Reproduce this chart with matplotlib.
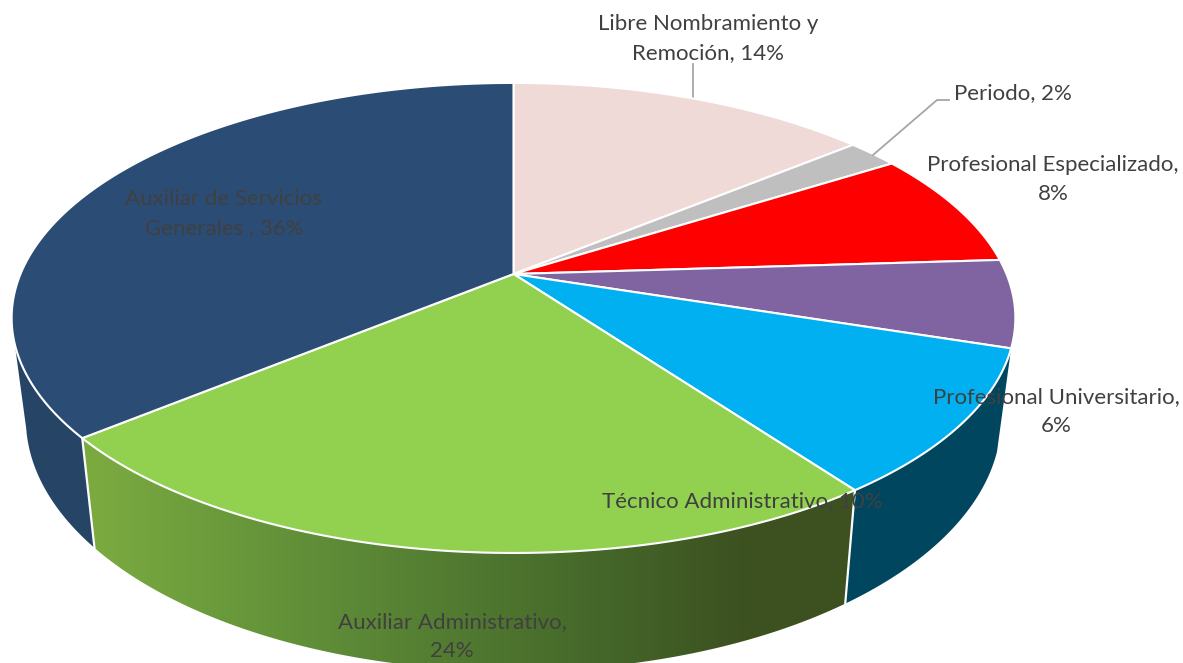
import numpy as np
import matplotlib
matplotlib.use('Agg')
import matplotlib.pyplot as plt
from matplotlib.colors import LinearSegmentedColormap
from matplotlib.patches import Polygon

# clockwise from 12 o'clock
categories = ['Libre Nombramiento y\nRemoción', 'Periodo', 'Profesional Especializado',
              'Profesional Universitario', 'Técnico Administrativo',
              'Auxiliar Administrativo', 'Auxiliar de Servicios\nGenerales ']
values = [14, 2, 8, 6, 10, 24, 36]
colors = ['#F0DAD8', '#BFBFBF', '#FF0000', '#8064A2', '#00B0F0', '#92D050', '#2B4C74']

label_text = ['Libre Nombramiento y\nRemoción, 14%', 'Periodo, 2%', 'Profesional Especializado,\n8%',
              'Profesional Universitario,\n6%', 'Técnico Administrativo, 10%',
              'Auxiliar Administrativo,\n24%', 'Auxiliar de Servicios\nGenerales , 36%']
label_x = [708, 954, 1053, 1056, 742, 452, 224]
label_y = [38.5, 93, 179.5, 411.5, 501, 636.5, 213.5]
label_ha = ['center', 'left', 'center', 'center', 'center', 'center', 'center']

# perspective of the top face and of the bottom rim
CX = 513.5
K = 0.187
TOP = dict(r=493, s=226.8, y0=274)
BOT = dict(r=479, s=243, y0=372)
TEXT = '#404040'


def project(theta, ring):
    t = np.radians(theta)
    d = 1 + K * np.cos(t)
    return CX + ring['r'] * np.sin(t) / d, ring['y0'] - ring['s'] * np.cos(t) / d


def arc(a, b, ring):
    t = np.linspace(a, b, 200)
    x, y = project(t, ring)
    return np.column_stack([x, y])


fig = plt.figure(figsize=(11.83, 6.63), dpi=100)
ax = fig.add_axes([0, 0, 1, 1])
ax.set_xlim(0, 1183)
ax.set_ylim(663, 0)
ax.axis('off')

ends = np.cumsum(values) * 3.6
starts = ends - np.array(values) * 3.6


def wall(a_top, b_top, a_bot, b_bot, stops, x0, x1):
    pts = np.vstack([arc(a_top, b_top, TOP), arc(b_bot, a_bot, BOT)])
    poly = Polygon(pts, closed=True, fc='none', ec='none', transform=ax.transData)
    ax.add_patch(poly)
    cmap = LinearSegmentedColormap.from_list('w', stops)
    im = ax.imshow(np.linspace(0, 1, 256).reshape(1, -1), cmap=cmap, aspect='auto',
                   extent=[x0, x1, 663, 0], zorder=1)
    im.set_clip_path(poly)


# side walls, only the visible front part
wall(starts[4], ends[4], starts[4], ends[4], ['#00465F', '#00465F'], 830, 1020)
green_stops = [(0, '#7CAC40'), (0.28, '#619039'), (0.66, '#45682A'), (0.86, '#3C5020'), (1, '#3C5020')]
wall(starts[5], ends[5], starts[5], ends[5], green_stops, 80, 860)
wall(starts[6], 253, starts[6], 257, ['#264566', '#264566'], 10, 100)
ax.set_xlim(0, 1183)
ax.set_ylim(663, 0)

# white seams between the walls
for a in [ends[4], ends[5]]:
    xt, yt = project(a, TOP)
    xb, yb = project(a, BOT)
    ax.plot([xt, xb], [yt, yb], color='white', lw=1.6, zorder=2)

# top face
for a, b, c in zip(starts, ends, colors):
    pts = np.vstack([[CX, TOP['y0']], arc(a, b, TOP)])
    ax.add_patch(Polygon(pts, closed=True, fc=c, ec='white', lw=1.5, zorder=3, joinstyle='round'))

# leader lines
ax.plot([693, 693], [100, 64], color='#A6A6A6', lw=1.3, zorder=2)
ax.plot([873, 937, 949], [155, 100, 100], color='#A6A6A6', lw=1.3, zorder=4)

for s, x, y, ha in zip(label_text, label_x, label_y, label_ha):
    ax.text(x, y, s, ha=ha, va='center', fontsize=16, color=TEXT, family='Lato',
            linespacing=1.55, zorder=5, multialignment='center')

fig.savefig('out.png', dpi=100)
